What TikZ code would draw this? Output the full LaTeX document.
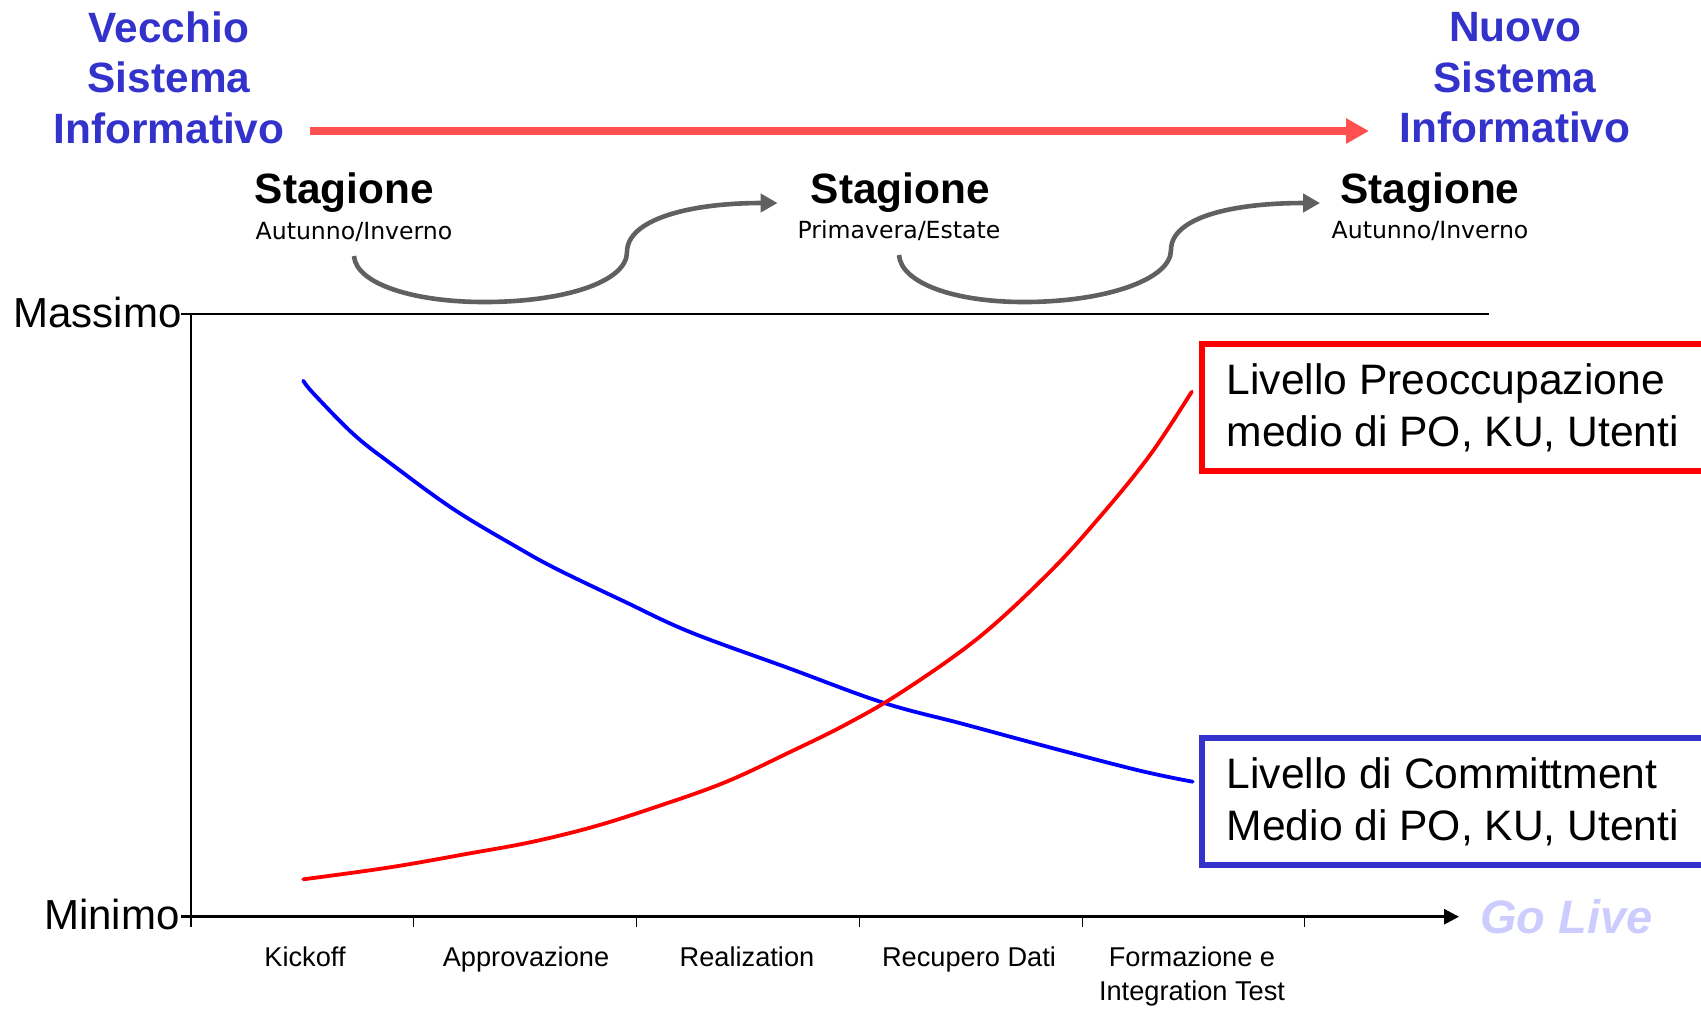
\documentclass[tikz,border=0pt]{standalone}
\usepackage{fontspec}
\setmainfont{Liberation Sans}
\newfontfamily\vfont{DejaVu Sans}
\usetikzlibrary{arrows.meta}
\definecolor{titleblue}{RGB}{51,51,204}
\definecolor{arrowred}{RGB}{255,80,80}
\definecolor{arrowgray}{RGB}{96,96,96}
\definecolor{golive}{RGB}{204,204,255}
\begin{document}
\begin{tikzpicture}[x=0.5pt,y=-0.5pt,
  title/.style={text=titleblue, font=\fontsize{21.2}{25.3}\selectfont\bfseries, align=center, inner sep=0pt, anchor=north},
  season/.style={font=\fontsize{21.2}{25}\selectfont\bfseries, inner sep=0pt, anchor=base},
  sub/.style={font=\vfont\fontsize{11.8}{14}\selectfont, inner sep=0pt, anchor=base},
  axlabel/.style={font=\fontsize{21}{25}\selectfont, inner sep=0pt, anchor=base east},
  phase/.style={font=\fontsize{13.6}{17}\selectfont, inner sep=0pt, anchor=north, align=center},
  legendbox/.style={line width=2.8pt, minimum width=251pt, minimum height=63.5pt, anchor=north west, align=left, inner sep=0pt, font=\fontsize{21.3}{26}\selectfont},
  garrow/.style={draw=arrowgray, line width=2.3pt, -{Triangle[length=8.5pt,width=9pt]}},
  curve/.style={line width=1.9pt, smooth, tension=0.6, line join=round, line cap=round}
]
\useasboundingbox (0,0) rectangle (1701,1009);

% titles
\node[title] (vecchio) at (169,11) {Vecchio\\Sistema\\Informativo};
\node[title] (nuovo) at (1515,12) {Nuovo\\Sistema\\Informativo};
\coordinate (rs) at (310,131);
\coordinate (re) at (1369,131);
\draw[draw=arrowred, line width=3.8pt, -{Triangle[length=11.5pt,width=12pt]}] (rs) -- (re);

% seasons
\node[season] (stag1) at (344.5,203) {Stagione};
\node[sub] (sub1) at (354,239) {Autunno/Inverno};
\node[season] (stag2) at (900.5,203) {Stagione};
\node[sub] (sub2) at (899,238) {Primavera/Estate};
\node[season] (stag3) at (1430,203) {Stagione};
\node[sub] (sub3) at (1430,238) {Autunno/Inverno};

\draw[garrow] ([yshift=-8.5pt]sub1.base) .. controls +(2,28) and +(-70,0) .. ++(130,46)
  .. controls +(80,0) and +(0,30) .. ++(143,-50)
  .. controls +(0,-32) and +(-90,0) .. ([xshift=-16.5pt]stag2.base west);
\draw[garrow] ([yshift=-8.5pt]sub2.base) .. controls +(2,28) and +(-70,0) .. ++(125,47)
  .. controls +(80,0) and +(0,30) .. ++(147,-52)
  .. controls +(0,-32) and +(-90,0) .. ([xshift=-10pt]stag3.base west);

% axes
\draw[line width=1pt] (181,313.5) -- (1489,313.5);
\draw[line width=0.6pt] (191,313.5) -- (191,927);
\draw[line width=1.5pt, -{Triangle[length=7.5pt,width=7.5pt]}] (181,916.7) -- (1459,916.7);
\foreach \tx in {413,636,859,1082,1304} \draw[line width=0.5pt] (\tx,916.7) -- (\tx,927);
\node[axlabel] (massimo) at (182,327) {Massimo};
\node[axlabel] (minimo) at (180,929) {Minimo};

\node[phase] (p1) at (305,946) {Kickoff};
\node[phase] (p2) at (526,946) {Approvazione};
\node[phase] (p3) at (747,946) {Realization};
\node[phase] (p4) at (969,946) {Recupero Dati};
\node[phase] (p5) at (1192,946) {Formazione e\\Integration Test};

\node[font=\fontsize{23.5}{28}\selectfont\bfseries\itshape, text=golive, inner sep=0pt, anchor=base west] (golive) at (1480,933) {Go Live};

% curves
\draw[blue, curve] plot coordinates {(303.3,380.7) (313.3,393.3) (353.3,434) (390,463) (453.3,509) (516.7,547) (556.7,569) (623.3,601) (690,632) (788.3,668) (883.3,702.7) (963.3,724) (1053.3,748.3) (1140,770.7) (1192.7,781.7)};
\draw[red, curve] plot coordinates {(303.3,879.3) (390,867.3) (470,853.3) (530,842.3) (590,827.7) (646.7,810) (723.3,783) (790,752) (846.7,724) (903.3,691) (980,636.5) (1050,571.7) (1100,516.7) (1150,455) (1191.7,391.7)};

% legend boxes
\node[legendbox, draw=red] (pbox) at (1199,341) {Livello Preoccupazione\\medio di PO, KU, Utenti};
\node[legendbox, draw=titleblue] (cbox) at (1199,735) {Livello di Committment\\Medio di PO, KU, Utenti};
\end{tikzpicture}
\end{document}
